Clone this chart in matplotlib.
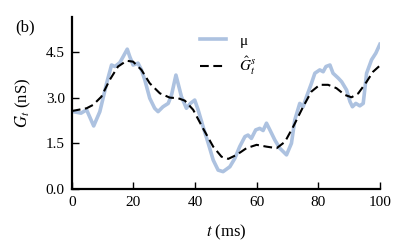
import matplotlib
matplotlib.use("Agg")
from matplotlib import pyplot as plt

# observed conductance (blue) and estimate (dashed)
mu_t = [0, 3, 4.8, 7.1, 9.1, 11.3, 12.9, 14.0, 15.6, 16.7, 18.0, 18.8, 19.9, 21.5, 22.6,
        23.7, 25.3, 26.9, 28.0, 29.6, 31.3, 32.4, 33.8, 35.6, 37.2, 38.5, 39.9, 41.0, 42.6,
        44.3, 45.9, 47.5, 49.1, 51.3, 52.9, 54.5, 56.2, 57.2, 58.3, 59.7, 61.0, 62.1, 63.2,
        64.3, 65.9, 67.5, 69.7, 71.3, 72.4, 74.0, 75.1, 76.2, 77.8, 78.9, 80.5, 81.6, 82.5,
        83.8, 84.8, 86.5, 87.6, 89.2, 90.3, 91.1, 92.2, 93.5, 94.6, 95.7, 97.3, 98.7, 100]
mu_g = [2.55, 2.49, 2.6, 2.07, 2.54, 3.47, 4.07, 4.02, 4.15, 4.35, 4.59, 4.35, 4.07, 4.13, 3.91,
        3.58, 2.98, 2.65, 2.54, 2.70, 2.81, 3.1, 3.74, 3.03, 2.65, 2.81, 2.92, 2.6, 2.05,
        1.5, 0.95, 0.62, 0.57, 0.73, 1.0, 1.39, 1.72, 1.77, 1.66, 1.94, 1.99, 1.92, 2.16,
        1.94, 1.61, 1.34, 1.12, 1.5, 2.27, 2.81, 2.7, 3.03, 3.47, 3.8, 3.91, 3.85, 4.02,
        4.07, 3.80, 3.64, 3.52, 3.25, 2.87, 2.70, 2.81, 2.73, 2.81, 3.8, 4.24, 4.46, 4.75]

est_t = [0, 4.8, 6.9, 9.6, 12.3, 15.0, 17.8, 19.9, 22.6, 25.3, 28.6, 31.8, 34.5, 36.7, 39.4,
         42.6, 45.9, 48.6, 50.8, 53.5, 56.7, 60, 63.2, 66.5, 69.2, 71.9, 75.1, 77.8, 80.5,
         83.2, 85.9, 88.6, 90.8, 93, 95.7, 97.8, 100]
est_g = [2.56, 2.65, 2.76, 3.03, 3.58, 4.02, 4.21, 4.18, 3.91, 3.47, 3.14, 3.0, 2.98, 2.9, 2.6,
         1.99, 1.39, 1.06, 0.99, 1.12, 1.34, 1.45, 1.39, 1.34, 1.55, 2.05, 2.7, 3.2, 3.42,
         3.42, 3.31, 3.09, 3.01, 3.14, 3.52, 3.85, 4.05]

yticks = [0, 1.5, 3.0, 4.5]
xticks = [0, 20, 40, 60, 80, 100]

plt.rcParams['font.family'] = 'Liberation Serif'
plt.rcParams['mathtext.fontset'] = 'stix'
plt.rcParams['font.size'] = 11

fig = plt.figure(figsize=(4.08, 2.52), dpi=100)
ax = fig.add_axes([0.176, 0.25, 0.755, 0.683])

ax.plot(mu_t, mu_g, color='#adc2e0', lw=2.6, solid_joinstyle='round', label='μ')
ax.plot(est_t, est_g, color='black', lw=1.5, ls=(0, (4.2, 2.2)), label=r'$\hat{G}_t^s$')

ax.set_xlim(0, 100)
ax.set_ylim(0, 5.65)
ax.set_xticks(xticks)
ax.set_yticks(yticks)
ax.set_yticklabels([f"{v:.1f}" for v in yticks])
ax.tick_params(direction='in', length=5, width=1, pad=5)
for s in ['top', 'right']:
    ax.spines[s].set_visible(False)
for s in ['left', 'bottom']:
    ax.spines[s].set_linewidth(1.6)

ax.set_xlabel(r'$t$ (ms)', labelpad=10, fontsize=12)
ax.set_ylabel(r'$G_t$ (nS)', labelpad=9, fontsize=12)

ax.legend(loc='upper left', bbox_to_anchor=(0.37, 0.98), frameon=False,
          handlelength=1.7, labelspacing=0.45, handletextpad=0.9)

fig.text(0.037, 0.89, '(b)', va='center', fontsize=12)

fig.savefig('out.png', dpi=100)
